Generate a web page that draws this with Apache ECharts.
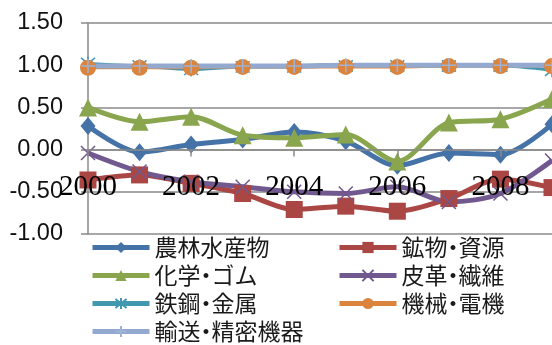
<!DOCTYPE html>
<html>
<head>
<meta charset="utf-8">
<script src="https://cdn.jsdelivr.net/npm/echarts@6/dist/echarts.min.js"></script>
<style>
html,body{margin:0;padding:0;background:#fff;}
#c{width:552px;height:345px;}
</style>
</head>
<body>
<div id="c"></div>
<script>
var years = ['2000','2001','2002','2003','2004','2005','2006','2007','2008','2009'];
var yTicks = [-1.0, -0.5, 0.0, 0.5, 1.0, 1.5];
var names = ['農林水産物','鉱物・資源','化学・ゴム','皮革・繊維','鉄鋼・金属','機械・電機','輸送・精密機器'];
var agri    = [0.28, -0.03, 0.06, 0.12, 0.21, 0.10, -0.19, -0.04, -0.06, 0.30];
var mineral = [-0.36, -0.30, -0.40, -0.52, -0.71, -0.67, -0.73, -0.58, -0.35, -0.45];
var chem    = [0.50, 0.33, 0.39, 0.17, 0.14, 0.18, -0.14, 0.32, 0.36, 0.60];
var leather = [-0.04, -0.26, -0.38, -0.44, -0.50, -0.52, -0.44, -0.62, -0.52, -0.13];
var steel   = [1.02, 0.99, 0.95, 0.98, 0.98, 0.99, 0.99, 0.99, 0.99, 0.94];
var machine = [0.97, 0.97, 0.97, 0.98, 0.98, 0.98, 0.98, 0.99, 0.99, 0.99];
var transp  = [0.99, 0.99, 0.99, 0.99, 0.99, 1.00, 1.00, 1.00, 1.00, 1.00];

var colors = ['#4572A7','#AA4643','#89A54E','#71588F','#4198AF','#DB843D','#93A9CF'];
var xPath = 'path://M0 0L10 10M10 0L0 10';
var starPath = 'path://M1 1L9 9M9 1L1 9M5 0L5 10';
var plusPath = 'path://M5 0L5 10M0 5L10 5';

function mk(i, data, symbol, size, lw, stroke) {
  var s = {
    name: names[i], type: 'line', data: data, smooth: 0.3,
    symbol: symbol, symbolSize: size, showSymbol: true,
    lineStyle: {color: colors[i], width: lw},
    itemStyle: {color: colors[i]},
    emphasis: {disabled: true}, animation: false
  };
  if (stroke) {
    s.itemStyle = {color: 'rgba(0,0,0,0)', borderColor: stroke, borderWidth: 1.5};
  }
  return s;
}

function legendFmt(name) {
  var p = name.split('・');
  if (p.length < 2) return '{t|' + name + '}';
  return '{t|' + p[0] + '}{d|・}{t|' + p.slice(1).join('・') + '}';
}
var legendText = {
  fontFamily: 'Noto Sans CJK JP', fontSize: 23, color: '#1a1a1a',
  rich: {
    t: {fontFamily: 'Noto Sans CJK JP', fontSize: 23, color: '#1a1a1a', lineHeight: 24},
    d: {fontFamily: 'Noto Sans CJK JP', fontSize: 23, color: '#1a1a1a', lineHeight: 24, width: 11, align: 'center'}
  }
};

// grid geometry: top 23, bottom 111 -> plot height 211, zero line 84.4px above bottom
var zeroOffset = -84.4;

var chart = echarts.init(document.getElementById('c'));
chart.setOption({
  animation: false,
  color: colors,
  grid: {left: 88, right: -7, top: 23, bottom: 111, containLabel: false},
  legend: [{
    data: [names[0], names[2], names[4], names[6]],
    orient: 'vertical', left: 90, top: 236, padding: 0, itemGap: 5,
    itemWidth: 57, itemHeight: 14, formatter: legendFmt, textStyle: legendText,
    lineStyle: {width: 5}
  },{
    data: [names[1], names[3], names[5]],
    orient: 'vertical', left: 337, top: 236, padding: 0, itemGap: 5,
    itemWidth: 57, itemHeight: 14, formatter: legendFmt, textStyle: legendText,
    lineStyle: {width: 5}
  }],
  xAxis: {
    type: 'category', data: years, boundaryGap: false, z: 5, position: 'bottom',
    offset: zeroOffset,
    axisLine: {onZero: false, lineStyle: {color: '#8a8a8a', width: 1.5}},
    axisTick: {show: true, interval: 1, length: 7, lineStyle: {color: '#8a8a8a', width: 1.5}},
    axisLabel: {interval: 1, margin: 23, fontFamily: 'Liberation Serif', fontSize: 29, color: '#000'},
    splitLine: {show: false}
  },
  yAxis: {
    type: 'value', min: yTicks[0], max: yTicks[yTicks.length-1], interval: 0.5,
    axisLine: {show: true, onZero: false, lineStyle: {color: '#8a8a8a', width: 1.5}},
    axisTick: {show: true, length: 7, lineStyle: {color: '#8a8a8a', width: 1.5}},
    axisLabel: {margin: 25, fontFamily: 'Liberation Sans', fontSize: 23.5, color: '#111',
      formatter: function(v){ return v.toFixed(2); }},
    splitLine: {lineStyle: {color: '#8a8a8a', width: 1.5}}
  },
  series: [
    mk(0, agri, 'diamond', [15,18], 5),
    mk(1, mineral, 'rect', 17, 5),
    mk(2, chem, 'triangle', 18, 5),
    mk(3, leather, xPath, 14, 5, colors[3]),
    mk(4, steel, starPath, 14, 3, colors[4]),
    mk(5, machine, 'circle', 16, 3),
    mk(6, transp, plusPath, 14, 5, '#9fb3d6')
  ]
});
</script>
</body>
</html>
